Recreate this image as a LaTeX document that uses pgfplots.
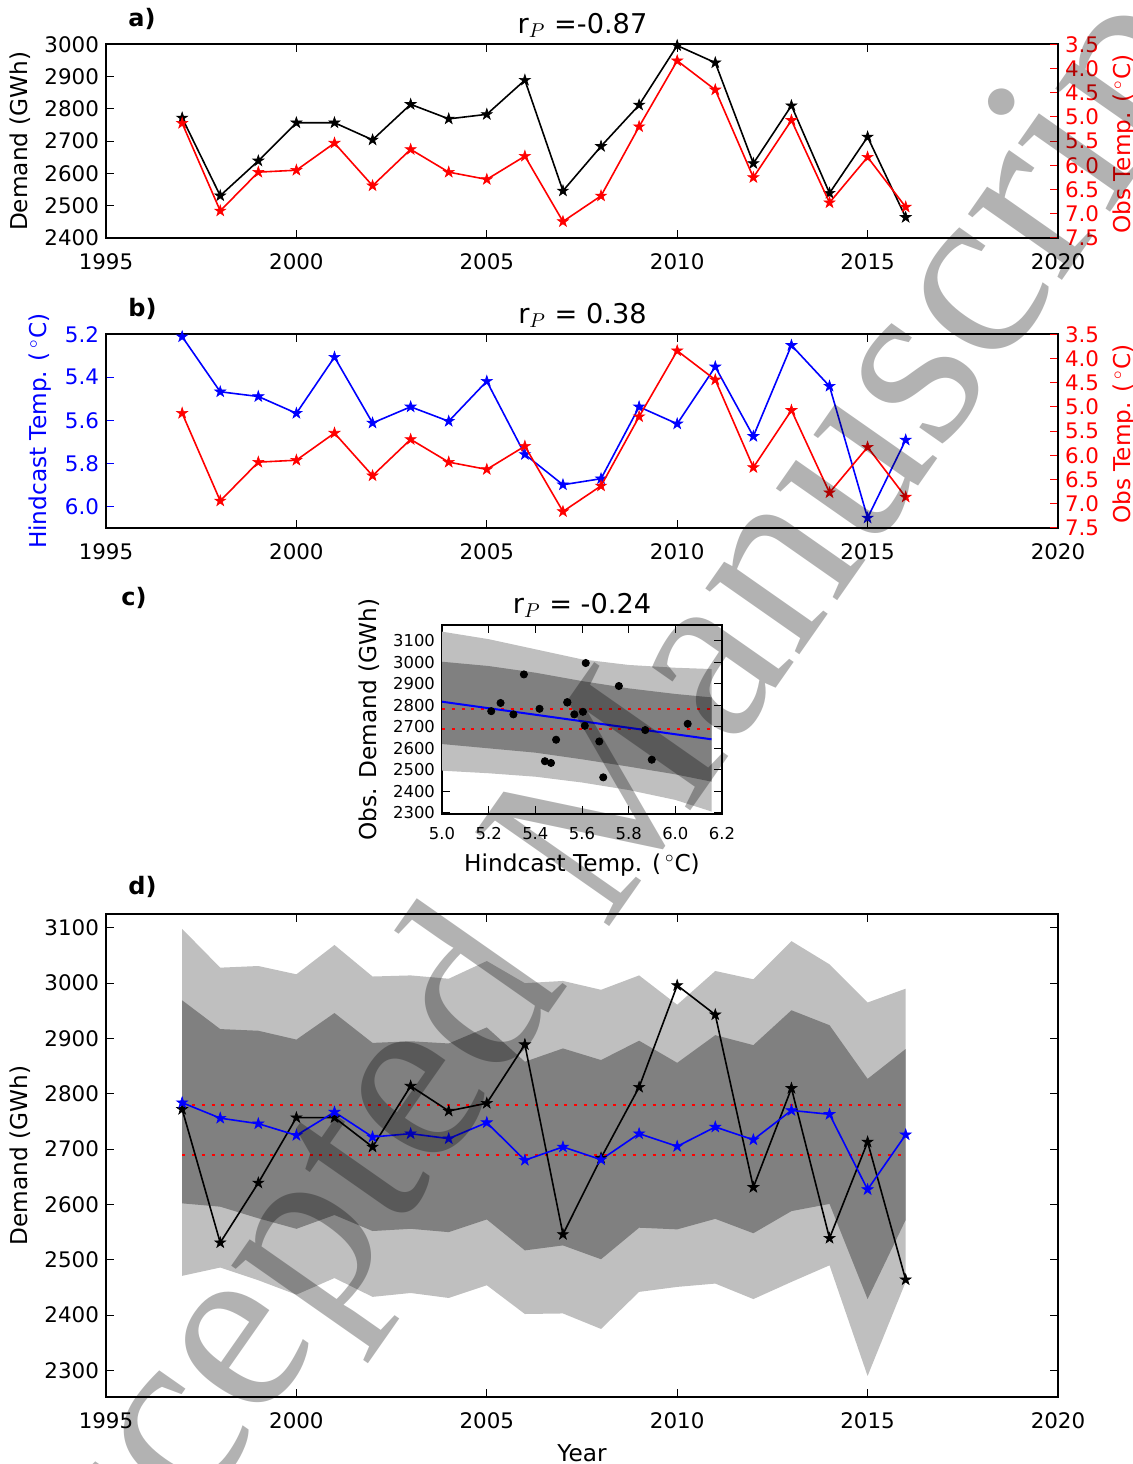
\documentclass[border=0pt]{standalone}
\usepackage{fontspec}
\setmainfont{DejaVu Sans}
\newfontfamily\wmfont{Liberation Serif}
\usepackage{pgfplots}
\usepackage{pgfplotstable}
\pgfplotsset{compat=1.18}

\definecolor{lightband}{gray}{0.75}
\definecolor{darkband}{gray}{0.5}

% filled five-point star, like matplotlib '*'
\pgfdeclareplotmark{fstar}{%
  \pgfpathmoveto{\pgfpointpolar{90}{\pgfplotmarksize}}%
  \pgfpathlineto{\pgfpointpolar{126}{0.382\pgfplotmarksize}}%
  \pgfpathlineto{\pgfpointpolar{162}{\pgfplotmarksize}}%
  \pgfpathlineto{\pgfpointpolar{198}{0.382\pgfplotmarksize}}%
  \pgfpathlineto{\pgfpointpolar{234}{\pgfplotmarksize}}%
  \pgfpathlineto{\pgfpointpolar{270}{0.382\pgfplotmarksize}}%
  \pgfpathlineto{\pgfpointpolar{306}{\pgfplotmarksize}}%
  \pgfpathlineto{\pgfpointpolar{342}{0.382\pgfplotmarksize}}%
  \pgfpathlineto{\pgfpointpolar{18}{\pgfplotmarksize}}%
  \pgfpathlineto{\pgfpointpolar{54}{0.382\pgfplotmarksize}}%
  \pgfpathclose
  \pgfusepathqfillstroke
}

% year, observed demand, hindcast temp, observed temp
\pgfplotstableread{
year demand hind obs
1997 2772 5.211 5.13
1998 2531 5.467 6.94
1999 2639 5.489 6.14
2000 2757 5.567 6.10
2001 2757 5.306 5.54
2002 2704 5.612 6.42
2003 2814 5.537 5.67
2004 2769 5.604 6.14
2005 2783 5.418 6.29
2006 2889 5.758 5.81
2007 2546 5.899 7.16
2008 2684 5.871 6.63
2009 2812 5.537 5.20
2010 2996 5.616 3.84
2011 2943 5.351 4.44
2012 2631 5.674 6.25
2013 2810 5.251 5.07
2014 2539 5.441 6.77
2015 2713 6.053 5.83
2016 2464 5.691 6.86
}\yrs

% panel d: predicted demand
\pgfplotstableread{
year pred
1997 2784
1998 2756
1999 2746
2000 2725
2001 2767
2002 2722
2003 2728
2004 2719
2005 2748
2006 2680
2007 2704
2008 2681
2009 2728
2010 2705
2011 2740
2012 2717
2013 2770
2014 2763
2015 2627
2016 2726
}\pred

\pgfplotsset{
  every axis/.append style={
    scale only axis, anchor=south west,
    axis line style={line width=0.9pt},
    tick align=inside, major tick length=4pt,
    every tick/.append style={black, line width=0.5pt},
    tick label style={font=\fontsize{10.7}{12}\selectfont},
    label style={font=\fontsize{11.6}{13}\selectfont},
    xticklabel shift=4.5pt,
    /pgf/number format/assume math mode=true,
    /pgf/number format/1000 sep={},
  },
  yearaxis/.style={xmin=1995, xmax=2020, xtick={1995,2000,2005,2010,2015,2020}},
  dec1/.style={/pgf/number format/.cd, fixed, fixed zerofill, precision=1},
  ln/.style={line width=0.8pt, mark=fstar, mark size=2.9pt, mark options={line width=0.3pt}},
  rdot/.style={red, line width=1pt, dash pattern=on 1.5pt off 3.4pt},
}

\begin{document}
\begin{tikzpicture}
\path[use as bounding box] (0,0) rectangle (566.5pt,732pt);

% ---------- a)
\begin{axis}[at={(53pt,613pt)}, width=476pt, height=96.85pt, yearaxis,
  ymin=2400, ymax=3000, ytick={2400,2500,2600,2700,2800,2900,3000}, ytick pos=left,
  ylabel={Demand (GWh)}]
\addplot[black, ln] table[x=year, y=demand]{\yrs};
\end{axis}
\begin{axis}[at={(53pt,613pt)}, width=476pt, height=96.85pt, yearaxis,
  axis x line=none, axis y line*=right, y dir=reverse,
  ymin=3.5, ymax=7.5, ytick={3.5,4.0,4.5,5.0,5.5,6.0,6.5,7.0,7.5},
  every y tick/.append style={red},
  yticklabel style={red, dec1},
  ylabel={Obs Temp. (\,$^\circ$C)}, ylabel style={red, xshift=-1.5pt}]
\addplot[red, ln] table[x=year, y=obs]{\yrs};
\end{axis}

% ---------- b)
\begin{axis}[at={(53pt,468pt)}, width=476pt, height=96.85pt, yearaxis,
  y dir=reverse, ymin=5.2, ymax=6.1, ytick={5.2,5.4,5.6,5.8,6.0}, ytick pos=left,
  every y tick/.append style={blue},
  yticklabel style={blue, dec1},
  ylabel={Hindcast Temp. (\,$^\circ$C)}, ylabel style={blue}]
\addplot[blue, ln] table[x=year, y=hind]{\yrs};
\end{axis}
\begin{axis}[at={(53pt,468pt)}, width=476pt, height=96.85pt, yearaxis,
  axis x line=none, axis y line*=right, y dir=reverse,
  ymin=3.5, ymax=7.5, ytick={3.5,4.0,4.5,5.0,5.5,6.0,6.5,7.0,7.5},
  every y tick/.append style={red},
  yticklabel style={red, dec1},
  ylabel={Obs Temp. (\,$^\circ$C)}, ylabel style={red, xshift=-1.5pt}]
\addplot[red, ln] table[x=year, y=obs]{\yrs};
\end{axis}

% ---------- c)
\begin{axis}[at={(221pt,324.85pt)}, width=140pt, height=94.65pt,
  xmin=5.0, xmax=6.2, ymin=2292, ymax=3173,
  xtick={5.0,5.2,5.4,5.6,5.8,6.0,6.2},
  ytick={2300,2400,2500,2600,2700,2800,2900,3000,3100},
  xticklabel style={dec1}, xticklabel shift=3pt,
  tick label style={font=\fontsize{8.2}{9}\selectfont},
  xlabel={Hindcast Temp. (\,$^\circ$C)}, ylabel={Obs. Demand (GWh)}]
% outer band: upper edge, then lower edge back
\addplot[fill=lightband, draw=none] coordinates {
  (5.0,3142) (5.2,3107) (5.4,3060) (5.6,3013) (5.8,2987) (6.0,2974) (6.155,2968)
  (6.155,2305) (6.0,2359) (5.8,2405) (5.6,2440) (5.4,2467) (5.2,2483) (5.0,2495)};
% inner band
\addplot[fill=darkband, draw=none] coordinates {
  (5.0,3002) (5.2,2982) (5.4,2951) (5.6,2912) (5.8,2878) (6.0,2852) (6.155,2836)
  (6.155,2444) (6.0,2478) (5.8,2514) (5.6,2548) (5.4,2579) (5.2,2599) (5.0,2619)};
\addplot[rdot] coordinates {(5.0,2780) (6.155,2780)};
\addplot[rdot] coordinates {(5.0,2691) (6.155,2691)};
\addplot[blue, line width=1pt] coordinates {(5.0,2816) (6.155,2641)};
\addplot[black, only marks, mark=*, mark size=1.8pt] table[x=hind, y=demand]{\yrs};
\end{axis}

% ---------- d)
\begin{axis}[at={(53pt,33.5pt)}, width=476pt, height=241.5pt, yearaxis,
  ymin=2252, ymax=3125,
  ytick={2300,2400,2500,2600,2700,2800,2900,3000,3100},
  xlabel={Year}, xlabel style={yshift=-1pt}, ylabel={Demand (GWh)}]
% outer band
\addplot[fill=lightband, draw=none] coordinates {
  (1997,3098) (1998,3028) (1999,3031) (2000,3016) (2001,3069) (2002,3012) (2003,3014)
  (2004,3008) (2005,3040) (2006,3000) (2007,3004) (2008,2988) (2009,3014) (2010,2961)
  (2011,3022) (2012,3007) (2013,3076) (2014,3034) (2015,2965) (2016,2990)
  (2016,2460) (2015,2290) (2014,2490) (2013,2460) (2012,2429) (2011,2457) (2010,2451)
  (2009,2442) (2008,2375) (2007,2403) (2006,2402) (2005,2454) (2004,2431) (2003,2440)
  (2002,2433) (2001,2467) (2000,2437) (1999,2463) (1998,2486) (1997,2471)};
% inner band
\addplot[fill=darkband, draw=none] coordinates {
  (1997,2969) (1998,2917) (1999,2914) (2000,2898) (2001,2946) (2002,2892) (2003,2895)
  (2004,2891) (2005,2920) (2006,2858) (2007,2882) (2008,2861) (2009,2896) (2010,2856)
  (2011,2906) (2012,2888) (2013,2951) (2014,2924) (2015,2827) (2016,2881)
  (2016,2572) (2015,2429) (2014,2601) (2013,2588) (2012,2548) (2011,2574) (2010,2555)
  (2009,2558) (2008,2501) (2007,2526) (2006,2517) (2005,2573) (2004,2550) (2003,2556)
  (2002,2552) (2001,2581) (2000,2556) (1999,2575) (1998,2596) (1997,2602)};
\addplot[rdot] coordinates {(1997,2779) (2016,2779)};
\addplot[rdot] coordinates {(1997,2690) (2016,2690)};
\addplot[black, ln] table[x=year, y=demand]{\yrs};
\addplot[blue, ln] table[x=year, y=pred]{\pred};
\end{axis}

% titles and panel letters
\node[anchor=base, font=\fontsize{13.6}{15}\selectfont] at (291.25pt,715.3pt) {r$_{P}$ =-0.87};
\node[anchor=base, font=\fontsize{13.6}{15}\selectfont] at (291.25pt,570.35pt) {r$_{P}$ = 0.38};
\node[anchor=base, font=\fontsize{13.6}{15}\selectfont] at (291pt,425.3pt) {r$_{P}$ = -0.24};
\node[anchor=base west, inner sep=0pt, font=\bfseries\fontsize{12}{14}\selectfont] at (64pt,718.7pt) {a)};
\node[anchor=base west, inner sep=0pt, font=\bfseries\fontsize{12}{14}\selectfont] at (64pt,573.7pt) {b)};
\node[anchor=base west, inner sep=0pt, font=\bfseries\fontsize{12}{14}\selectfont] at (60.5pt,429pt) {c)};
\node[anchor=base west, inner sep=0pt, font=\bfseries\fontsize{12}{14}\selectfont] at (64pt,284.5pt) {d)};

% watermark
\node[rotate=55, opacity=0.3, inner sep=0pt, font=\wmfont\fontsize{125}{125}\selectfont] at (297pt,310pt) {Accepted Manuscript};
\end{tikzpicture}
\end{document}
